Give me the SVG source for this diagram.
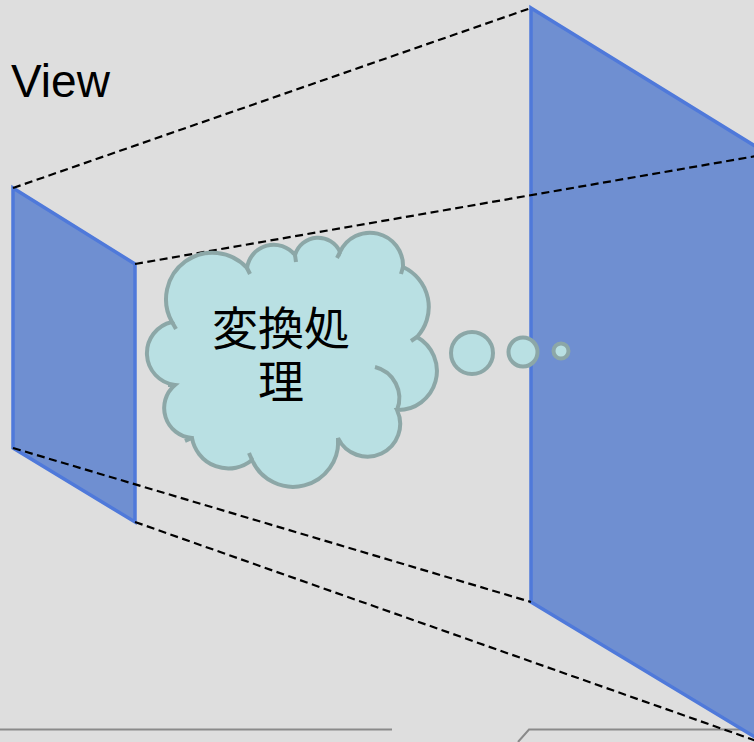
<svg xmlns="http://www.w3.org/2000/svg" width="754" height="742" viewBox="0 0 754 742">
<style>
.panel{fill:#6f8fd1;stroke:#4f79da;stroke-width:3.5;stroke-linejoin:miter}
.dash{stroke:#000;stroke-width:2.2;stroke-dasharray:8 4.5;fill:none}
.cloud{fill:#b9e0e3;stroke:#8ca7a7;stroke-width:4}
.tail{fill:none;stroke:#8ca7a7;stroke-width:4}
.base{fill:none;stroke:#8a8a8a;stroke-width:2}
.lbl{font-family:"Liberation Sans",Arial,sans-serif;font-size:46px;fill:#000}
.cj{font-family:"Noto Sans CJK JP","Noto Sans CJK SC",sans-serif;font-size:46px;fill:#000;text-anchor:middle}
</style>
<rect width="754" height="742" fill="#dedede"/>
<g id="baseline">
<path class="base" d="M0,729.5 H392"/>
<path class="base" d="M518,742 L529,729.5 H754"/>
</g>
<g id="view-label"><text class="lbl" x="11" y="97">View</text></g>
<g id="small-panel"><polygon class="panel" points="13,188 135,264 135,522 13,448"/></g>
<g id="big-panel"><polygon class="panel" points="531,8 768,154 768,745 531,602"/></g>
<g id="connectors">
<path class="dash" d="M13,188 L531,8"/>
<path class="dash" d="M135,264 L768,154"/>
<path class="dash" d="M13,448 L531,602"/>
<path class="dash" d="M135,522 L768,745"/>
</g>
<g id="cloud">
<path class="cloud" d="M172,322 A46.5,46.5 0 0 1 247,268 A27,27 0 0 1 295,255 A24,24 0 0 1 340,252 A33,33 0 0 1 403,267 A44,44 0 0 1 417,337 A39,39 0 0 1 397,410 A32,32 0 0 1 338,438 A45,45 0 0 1 252,460 A37,37 0 0 1 192,438 A30,30 0 0 1 175,385 A32,32 0 0 1 172,322 Z"/>
<path class="tail" d="M375,367 A32,32 0 0 1 397,410"/>
<path class="tail" d="M172,322 L176,329"/>
<path class="tail" d="M247,268 L250,274"/>
<path class="tail" d="M295,255 L296,262"/>
<path class="tail" d="M340,252 L337,258"/>
<path class="tail" d="M403,267 L401,274"/>
<path class="tail" d="M417,337 L411,341"/>
<path class="tail" d="M338,438 L338,445"/>
<path class="tail" d="M252,460 L249,453"/>
<path class="tail" d="M192,438 L185,441"/>
<path class="tail" d="M175,385 L168,385"/>
<text class="cj" x="281" y="345">変換処</text>
<text class="cj" x="281" y="398">理</text>
</g>
<g id="bubbles">
<circle class="cloud" cx="472" cy="353" r="21"/>
<circle class="cloud" cx="523" cy="352" r="14.5"/>
<circle class="cloud" cx="561" cy="351" r="7.5"/>
</g>
</svg>
